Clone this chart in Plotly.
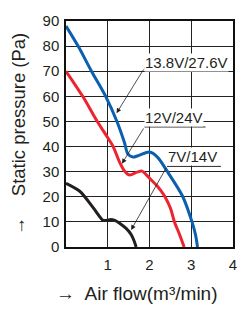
import plotly.graph_objects as go

# Data
blue_x = [0, 0.29, 0.61, 0.95, 1.22, 1.40, 1.48, 1.60, 1.75, 2.0, 2.19, 2.43, 2.79, 3.02, 3.10, 3.15]
blue_y = [88, 80, 70, 60, 50, 41.6, 37.1, 35.8, 36.5, 37.8, 35.8, 30, 20.3, 9.9, 5, 0]

red_x = [0, 0.40, 0.75, 1.0, 1.13, 1.28, 1.40, 1.52, 1.70, 1.82, 1.95, 2.0, 2.2, 2.36, 2.5, 2.6, 2.72, 2.83]
red_y = [70, 60, 50, 43.5, 40, 33.9, 30.3, 28.7, 29.8, 30.2, 28.3, 27.4, 24, 20.3, 15.5, 9.9, 5, 0]

black_x = [0, 0.33, 0.65, 0.89, 0.97, 1.05, 1.17, 1.30, 1.44, 1.56, 1.63, 1.68]
black_y = [25.4, 22.2, 15.7, 10.6, 10.6, 10.9, 10.6, 9.3, 7.4, 5.0, 2.5, 0]

series_names = ["13.8V/27.6V", "12V/24V", "7V/14V"]
series_colors = ["#0a5fae", "#ee2330", "#231f20"]

x_ticks = [1, 2, 3, 4]
y_ticks = [0, 10, 20, 30, 40, 50, 60, 70, 80, 90]

# label placement: (text left x, text center y, underline y, underline right x, arrow target x, arrow target y)
label_pos = [
    (1.88, 73.6, 71.3, 3.81, 1.21, 53.3),
    (1.88, 51.4, 47.8, 3.34, 1.34, 33.2),
    (2.42, 35.9, 32.1, 3.71, 1.56, 6.8),
]

FONT = "Liberation Sans, Arial, sans-serif"
INK = "#231f20"

fig = go.Figure()
for xs, ys, name, col in zip([blue_x, red_x, black_x], [blue_y, red_y, black_y], series_names, series_colors):
    fig.add_trace(go.Scatter(x=xs, y=ys, mode="lines", name=name,
                             line=dict(color=col, width=3, shape="spline", smoothing=0.8),
                             showlegend=False, hoverinfo="skip"))

shapes = []
annotations = []
for name, (tx, ty, uy, ux, ax_, ay_) in zip(series_names, label_pos):
    annotations.append(dict(x=tx, y=ty, xref="x", yref="y", text=name, showarrow=False,
                            xanchor="left", yanchor="middle", bgcolor="white", borderpad=0,
                            font=dict(family=FONT, size=15, color=INK)))
    shapes.append(dict(type="line", xref="x", yref="y", x0=tx, x1=ux, y0=uy, y1=uy,
                       line=dict(color=INK, width=1)))
    annotations.append(dict(x=ax_, y=ay_, ax=tx, ay=uy, xref="x", yref="y", axref="x", ayref="y",
                            text="", showarrow=True, arrowhead=2, arrowsize=1.2, arrowwidth=0.8,
                            arrowcolor=INK))

annotations.append(dict(x=0.424, y=-0.206, xref="paper", yref="paper",
                        text="→  Air flow(m³/min)", showarrow=False,
                        xanchor="center", yanchor="middle",
                        font=dict(family=FONT, size=19, color=INK)))

fig.update_layout(
    width=249, height=311,
    margin=dict(l=66, r=15.5, t=15.3, b=63.7),
    paper_bgcolor="white", plot_bgcolor="white",
    shapes=shapes, annotations=annotations,
    font=dict(family=FONT, size=15, color=INK),
)
fig.update_xaxes(range=[0, 4], tickvals=x_ticks, showgrid=True, gridcolor="#222", gridwidth=1,
                 showline=True, linecolor="#111", linewidth=1.5, mirror=True, zeroline=False,
                 ticks="", ticklabelstandoff=3, tickfont=dict(family=FONT, size=15, color=INK))
fig.update_yaxes(range=[0, 90], tickvals=y_ticks, showgrid=True, gridcolor="#222", gridwidth=1,
                 showline=True, linecolor="#111", linewidth=1.5, mirror=True, zeroline=False,
                 ticks="", ticklabelstandoff=2, tickfont=dict(family=FONT, size=15, color=INK),
                 title=dict(text="\u00a0\u00a0\u00a0→    Static pressure (Pa)", standoff=12,
                            font=dict(family=FONT, size=18.5, color=INK)))

fig.write_html("out.html")
